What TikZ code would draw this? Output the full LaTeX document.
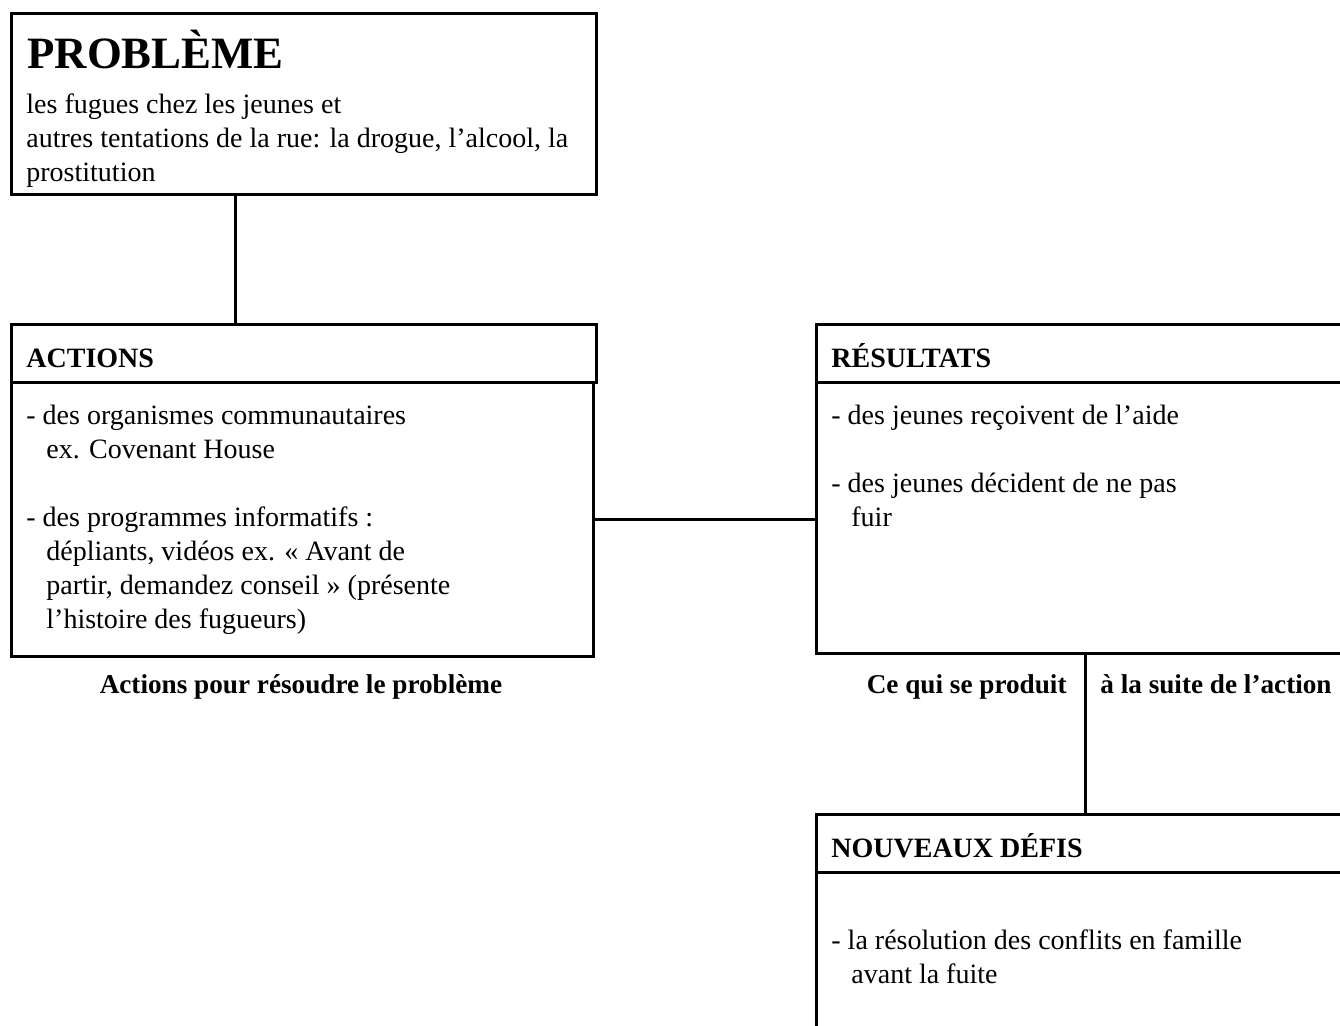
\documentclass[tikz,border=0pt]{standalone}
\usepackage{fontspec}
\setmainfont{Liberation Serif}
\usetikzlibrary{positioning}

\tikzset{
  box/.style={draw, line width=1.5pt, anchor=north west, inner sep=0pt, minimum width=292.5pt},
  txt/.style={anchor=north west, align=left, inner sep=0pt, font=\fontsize{14}{17}\selectfont},
  head/.style={inner sep=0pt, font=\fontsize{14}{17}\selectfont\bfseries},
  lbl/.style={inner sep=0pt, font=\fontsize{13.6}{17}\selectfont\bfseries},
  link/.style={line width=1.5pt},
}

\begin{document}
\begin{tikzpicture}[x=1pt, y=1pt]
  \useasboundingbox (0,0) rectangle (670,-512.5);
  \clip (0,0) rectangle (670,-512.5);

  % boxes
  \node[box, minimum height=90.5pt] (prob) at (5,-6) {};
  \node[box, minimum height=29pt] (acthd) at (5,-161.5) {};
  \node[box, minimum width=291pt, minimum height=137pt] (actbd) at (5,-190.5) {};
  \node[box, minimum width=270pt, minimum height=29pt] (reshd) at (407.5,-161.5) {};
  \node[box, minimum width=270pt, minimum height=135.5pt] (resbd) at (407.5,-190.5) {};
  \node[box, minimum width=270pt, minimum height=29pt] (defhd) at (407.5,-406.5) {};
  \node[box, minimum width=270pt, minimum height=100pt] (defbd) at (407.5,-435.5) {};

  % texts
  \node[below right=28pt and 8.5pt of prob.north west, anchor=base west, inner sep=0pt,
        font=\fontsize{22.4}{24}\selectfont\bfseries] (probh) {PROBLÈME};
  \node[txt, below right=40.8pt and 8pt of prob.north west] (probt)
    {les fugues chez les jeunes et\\
     autres tentations de la rue: la drogue, l’alcool, la\\
     prostitution};
  \node[head, above right=8.5pt and 8pt of acthd.south west, anchor=base west] (actt) {ACTIONS};
  \node[txt, below right=12pt and 8pt of actbd.north west] (actl)
    {- des organismes communautaires\\
     \hspace*{10pt}ex. Covenant House\\[17pt]
     - des programmes informatifs :\\
     \hspace*{10pt}dépliants, vidéos ex. « Avant de\\
     \hspace*{10pt}partir, demandez conseil » (présente\\
     \hspace*{10pt}l’histoire des fugueurs)};
  \node[head, above right=8.5pt and 8pt of reshd.south west, anchor=base west] (rest) {RÉSULTATS};
  \node[txt, below right=12pt and 8pt of resbd.north west] (resl)
    {- des jeunes reçoivent de l’aide\\[17pt]
     - des jeunes décident de ne pas\\
     \hspace*{10pt}fuir};
  \node[head, above right=8.5pt and 8pt of defhd.south west, anchor=base west] (deft) {NOUVEAUX DÉFIS};
  \node[txt, below right=29pt and 8pt of defbd.north west] (defl)
    {- la résolution des conflits en famille\\
     \hspace*{10pt}avant la fuite};

  % labels under the boxes
  \node[lbl, anchor=base] (actlbl) at (150.5,-346.5) {Actions pour résoudre le problème};
  \node[lbl, anchor=base east] (reslbl) at (533.5,-346.5) {Ce qui se produit};
  \node[lbl, anchor=base west] (suitelbl) at (550,-346.5) {à la suite de l’action};

  % connectors
  \coordinate (pivot) at (117.5,0);
  \coordinate (turn) at (542.5,0);
  \draw[link] (pivot |- prob.south) -- (pivot |- acthd.north);
  \draw[link] (actbd.east) -- (actbd.east -| resbd.west);
  \draw[link] (turn |- resbd.south) -- (turn |- defhd.north);
\end{tikzpicture}
\end{document}
